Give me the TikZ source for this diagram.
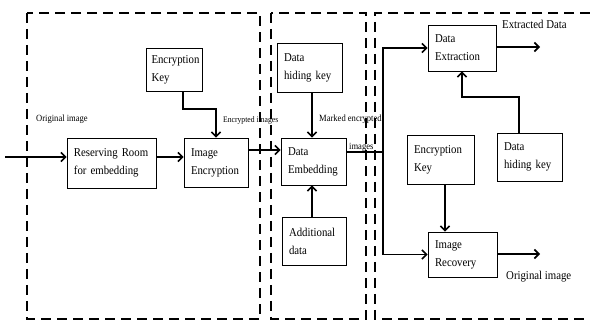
\documentclass[tikz,border=0pt]{standalone}
\usepackage{fontspec}
\setmainfont{Liberation Serif}[FakeStretch=0.9]
\usetikzlibrary{arrows.meta}
\tikzset{
  blk/.style={draw, line width=0.8pt, inner xsep=7pt, inner ysep=0pt, align=left,
    font=\fontsize{12}{18}\selectfont},
  arr/.style={line width=1.6pt, -{Straight Barb[length=4.5pt,width=9pt]}},
  conn/.style={line width=1.6pt},
  frame/.style={line width=2.2pt, dash pattern=on 10pt off 6pt},
  lbl/.style={anchor=west, inner sep=0pt},
}
\begin{document}
\begin{tikzpicture}[x=1pt,y=-1pt]
\useasboundingbox (0,0) rectangle (590,323);
% dashed frames
\draw[frame] (27,13) rectangle (260,319);
\draw[frame] (271,13) rectangle (366,319);
\draw[frame] (590,13) -- (375,13) -- (375,319) -- (590,319);

% blocks
\node[blk, inner xsep=5pt, text width=46pt, minimum height=43pt] (ek1) at (174.5,69.5) {Encryption\\Key};
\node[blk, text width=75pt, minimum height=50pt] (rr) at (111.5,163) {Reserving Room\\for embedding};
\node[blk, text width=50pt, minimum height=49pt] (ie) at (216,162.5) {Image\\Encryption};
\node[blk, text width=51pt, minimum height=49pt] (dhk1) at (309.5,67.5) {Data\\hiding key};
\node[blk, text width=51pt, minimum height=47pt] (de) at (313.5,161.5) {Data\\Embedding};
\node[blk, text width=50pt, minimum height=48pt] (ad) at (314,241) {Additional\\data};
\node[blk, text width=54pt, minimum height=46pt] (dx) at (462,48) {Data\\Extraction};
\node[blk, text width=53pt, minimum height=49pt] (ek2) at (440.5,159.5) {Encryption\\Key};
\node[blk, text width=51pt, minimum height=48pt] (dhk2) at (529.5,157) {Data\\hiding key};
\node[blk, text width=55pt, minimum height=45pt] (ir) at (462.5,254.5) {Image\\Recovery};

% helper coordinates
\coordinate (inL) at (5,157);
\coordinate (r1) at (0,150);
\coordinate (k1a) at (183,109);
\coordinate (v1) at (312,0);
\coordinate (sp) at (383,152);
\coordinate (o1) at (540,47);
\coordinate (h2) at (519,97);
\coordinate (k2) at (445,0);
\coordinate (o2) at (540,254);

% connectors
\draw[arr] (inL) -- (inL -| rr.west);
\draw[arr] (rr.east |- inL) -- (ie.west |- inL);
\draw[arr] (ek1.south -| k1a) -- (k1a) -| (ie.north);
\draw[arr] (ie.east |- r1) -- (de.west |- r1);
\draw[arr] (dhk1.south -| v1) -- (de.north -| v1);
\draw[arr] (ad.north -| v1) -- (de.south -| v1);
\draw[conn] (de.east |- sp) -- (sp);
\draw[arr] (sp) |- (dx.west);
\draw[arr] (sp) |- (ir.west);
\draw[arr] (dx.east |- o1) -- (o1);
\draw[arr] (dhk2.north -| h2) -- (h2) -| (dx.south);
\draw[arr] (ek2.south -| k2) -- (ir.north -| k2);
\draw[arr] (ir.east |- o2) -- (o2);

% labels
\node[lbl, font=\fontsize{9.5}{10}\selectfont] (l1) at (36,119) {Original image};
\node[lbl, font=\fontsize{8.5}{10}\selectfont] (l2) at (223,120) {Encrypted images};
\node[lbl, font=\fontsize{9.5}{10}\selectfont] (l3) at (319,119) {Marked encrypted};
\node[lbl, font=\fontsize{9.5}{10}\selectfont] (l4) at (349,147) {images};
\node[lbl, font=\fontsize{12}{12}\selectfont] (l5) at (502,24) {Extracted Data};
\node[lbl, font=\fontsize{12}{12}\selectfont] (l6) at (506,277) {Original image};
\end{tikzpicture}
\end{document}
